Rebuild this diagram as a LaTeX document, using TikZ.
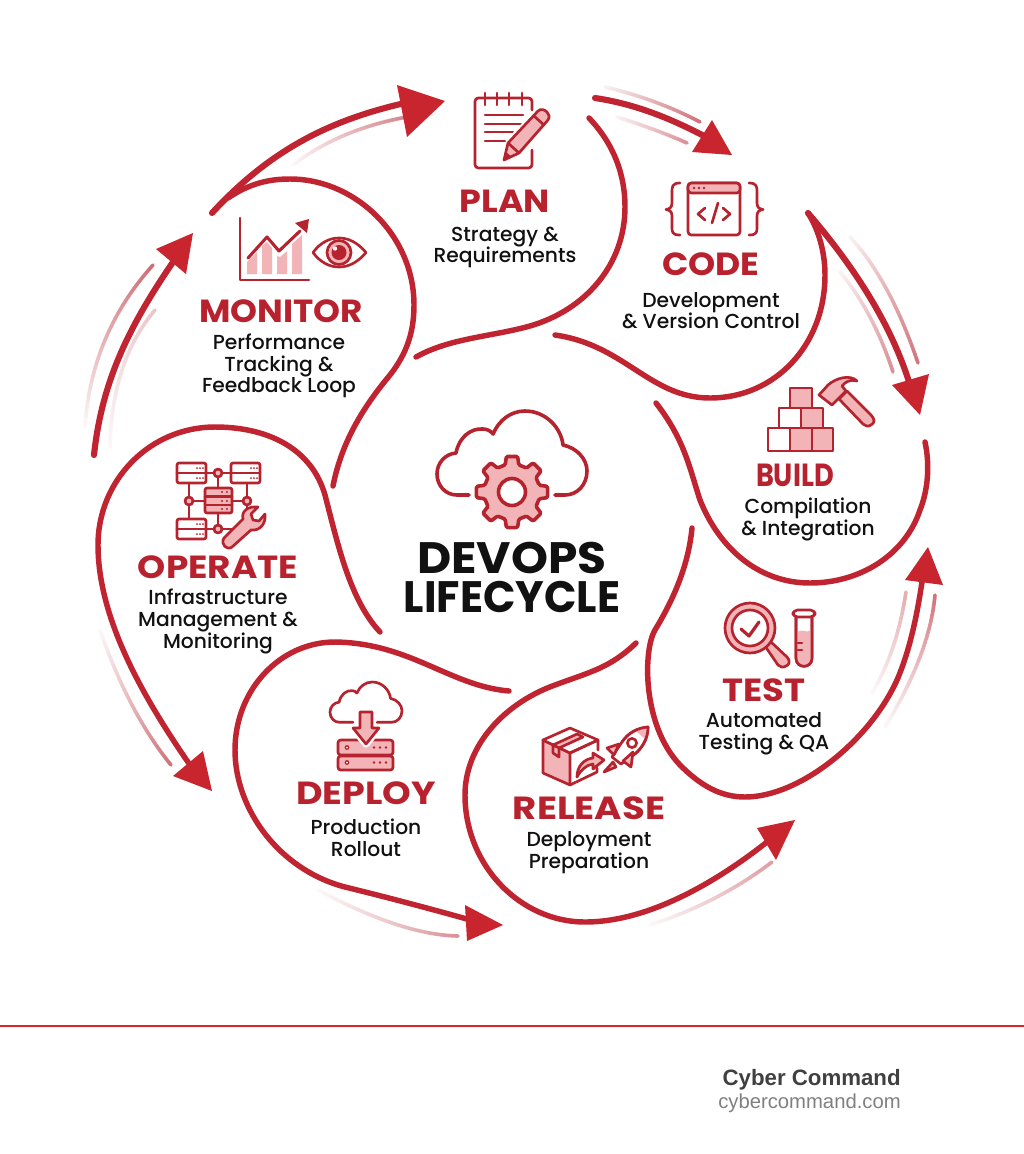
\documentclass[tikz,border=0pt]{standalone}
\usepackage{graphicx}
\usepackage{fontspec}
\setmainfont{Poppins}
\newfontfamily\subf{Poppins}[UprightFont=* Medium]
\newfontfamily\footf{Liberation Sans}
\usetikzlibrary{calc}
\definecolor{curve}{HTML}{BF2430}
\definecolor{headred}{HTML}{C9252F}
\definecolor{titlered}{HTML}{B8222E}
\definecolor{icon}{HTML}{B5232E}
\definecolor{pinkf}{HTML}{F2B4B6}
\definecolor{streakc}{HTML}{BC3540}
\definecolor{rulered}{HTML}{E0202A}
\definecolor{ink}{HTML}{111111}
\tikzset{
  bub/.style={line width=4.1pt,draw=curve,line cap=round,line join=round},
  arrw/.style={line width=4.6pt,draw=curve,line cap=round,line join=round},
  ttl/.style={font=\bfseries\fontsize{24}{26}\selectfont,text=titlered,inner sep=0pt},
  sub/.style={font=\subf\fontsize{15.2}{16.2}\selectfont,text=ink,align=center,inner sep=0pt},
  ic/.style={line width=2pt,draw=icon,line cap=round,line join=round},
  icf/.style={ic,fill=pinkf},
  icw/.style={ic,fill=white},
}
\newcommand\tsc[2]{\scalebox{#1}[1]{#2}}
\newcommand\streak[8]{%
  \foreach \k in {1,...,36}{%
    \pgfmathsetmacro\sCx{2*#3-0.5*(#1+#5)}%
    \pgfmathsetmacro\sCy{2*#4-0.5*(#2+#6)}%
    \pgfmathsetmacro\sTa{(\k-1)/36}%
    \pgfmathsetmacro\sTb{\k/36}%
    \pgfmathsetmacro\sXa{(1-\sTa)^2*#1+2*(1-\sTa)*\sTa*\sCx+\sTa^2*#5}%
    \pgfmathsetmacro\sYa{(1-\sTa)^2*#2+2*(1-\sTa)*\sTa*\sCy+\sTa^2*#6}%
    \pgfmathsetmacro\sXb{(1-\sTb)^2*#1+2*(1-\sTb)*\sTb*\sCx+\sTb^2*#5}%
    \pgfmathsetmacro\sYb{(1-\sTb)^2*#2+2*(1-\sTb)*\sTb*\sCy+\sTb^2*#6}%
    \pgfmathsetmacro\sPc{#7+(#8-#7)*(\k-0.5)/36}%
    \draw[line width=2.7pt,line cap=round,color=streakc!\sPc!white] (\sXa,\sYa)--(\sXb,\sYb);
  }%
}
\newcommand\cloudpath[2]{(#1,84)--(20,84) .. controls (8,84) and (0,74) .. (0,63) .. controls (0,52) and (8,43) .. (19,42) .. controls (22,26) and (34,17) .. (46,18) .. controls (50,18) and (54,20) .. (56,23) .. controls (62,9) and (74,0) .. (88,0) .. controls (108,0) and (124,16) .. (126,34) .. controls (140,37) and (150,48) .. (150,60) .. controls (150,74) and (140,84) .. (128,84)--(#2,84)}
\begin{document}
\begin{tikzpicture}[x=0.75pt,y=-0.75pt]
\useasboundingbox (0,0) rectangle (1024,1154);
\fill[white] (0,0) rectangle (1024,1154);

% ---------- streaks
\streak{605}{87}{655}{102}{700}{122}{6}{70}
\streak{617}{117}{655}{130}{687}{143}{6}{55}
\streak{850}{237}{887}{290}{918}{363}{6}{68}
\streak{840}{272}{870}{317}{893}{372}{6}{55}
\streak{872}{693}{893}{647}{906}{592}{3}{40}
\streak{885}{727}{920}{657}{935}{595}{3}{70}
\streak{650}{925}{715}{898}{772}{862}{3}{48}
\streak{318}{890}{395}{924}{458}{936}{3}{55}
\streak{100}{630}{132}{705}{171}{765}{3}{70}
\streak{85}{427}{105}{340}{153}{265}{3}{72}
\streak{110}{447}{122}{370}{155}{310}{4}{28}
\streak{293}{165}{345}{135}{407}{117}{3}{60}

% ---------- bubbles
\draw[bub] (589,118) .. controls (612,142) and (625,172) .. (625,207) .. controls (625,265) and (585,310) .. (530,326) .. controls (490,337) and (450,338) .. (416,357);
\draw[bub] (808,213) .. controls (820,232) and (825,255) .. (825,275) .. controls (825,345) and (775,398) .. (710,398) .. controls (650,398) and (625,345) .. (555,335);
\draw[bub] (925,442) .. controls (930,465) and (928,490) .. (920,510) .. controls (905,555) and (860,583) .. (810,583) .. controls (760,583) and (720,550) .. (700,500) .. controls (690,470) and (685,440) .. (656,403);
\draw[bub] (692,528) .. controls (688,570) and (670,605) .. (655,630) .. controls (643,650) and (642,725) .. (680,765) .. controls (700,785) and (720,797) .. (745,797) .. controls (800,797) and (870,740) .. (897,680) .. controls (910,650) and (917,615) .. (922,582);
\draw[bub] (636,643) .. controls (610,668) and (590,672) .. (555,685) .. controls (505,703) and (465,745) .. (465,795) .. controls (465,865) and (520,922) .. (585,922) .. controls (650,922) and (720,880) .. (772,838);
\draw[bub] (509,691) .. controls (450,686) and (410,643) .. (335,642) .. controls (280,642) and (235,690) .. (235,750) .. controls (235,810) and (280,870) .. (345,887) .. controls (390,898) and (435,910) .. (474,921);
\draw[bub] (380,632) .. controls (350,600) and (338,545) .. (325,495) .. controls (312,450) and (270,427) .. (215,427) .. controls (150,427) and (98,480) .. (98,545) .. controls (98,620) and (145,700) .. (190,765);
\draw[bub] (333,486) .. controls (342,440) and (365,405) .. (390,375) .. controls (408,352) and (414,330) .. (414,305) .. controls (414,235) and (355,179) .. (290,179) .. controls (270,179) and (250,183) .. (228,198);

% ---------- arrows
\draw[arrw] (212,213) .. controls (270,150) and (330,120) .. (405,103);
\draw[arrw] (595,98) .. controls (635,104) and (670,118) .. (708,138);
\draw[arrw] (808,213) .. controls (850,262) and (890,320) .. (910,385);
\draw[arrw] (94,455) .. controls (102,380) and (130,325) .. (173,262);
\fill[headred] (397,85)--(445,101)--(407,137)--cycle;
\fill[headred] (712,120)--(732,155)--(692,152)--cycle;
\fill[headred] (892,385)--(920,415)--(929,374)--cycle;
\fill[headred] (905,580)--(928,547)--(943,585)--cycle;
\fill[headred] (757,828)--(795,820)--(776,860)--cycle;
\fill[headred] (465,905)--(503,925)--(467,941)--cycle;
\fill[headred] (203,751)--(212,791)--(173,776)--cycle;
\fill[headred] (156,249)--(193,233)--(186,274)--cycle;

% ---------- PLAN icon
\draw[ic,rounded corners=2.5pt] (532,150) -- (532,168) -- (475,168) -- (475,98) -- (532,98) -- (532,110);
\foreach \xx in {485,497,509,522}{\draw[ic] (\xx,93)--(\xx,105);}
\draw[ic] (485,115)--(523,115) (485,124)--(523,124) (485,132)--(513,132) (485,141)--(505,141);
\draw[line width=5pt,white] (508,143)--(538,111)--(549,121)--(519,153);
\draw[icf] (504,160)--(508,143)--(538,111) .. controls (541,108) and (545,110) .. (547,112) .. controls (549,114) and (550,117) .. (548,120)--(519,153)--cycle;
\draw[ic] (534,116)--(544,125);
\draw[ic] (508,143)--(519,153);
\fill[icon] (504,160)--(506,152)--(512,157)--cycle;
\node[ttl] (plant) at (505,201) {\tsc{1.09}{PLAN}};
\node[sub] (plans) at (505,247.5) {Strategy \&\\Requirements};

% ---------- CODE icon
\draw[ic,rounded corners=2.5pt] (688,183) rectangle (740,235);
\draw[icf,rounded corners=2.5pt] (688,193)--(688,183)--(740,183)--(740,193)--cycle;
\foreach \xx in {694,699,704}{\fill[icon] (\xx,188) circle (1.4);}
\draw[ic] (705,208)--(698,214)--(705,220) (718,203)--(712,223) (723,208)--(730,214)--(723,220);
\draw[ic] (680,183) .. controls (672,183) and (672,187) .. (672,192) -- (672,203) .. controls (672,207) and (670,209) .. (666,209.5) .. controls (670,210) and (672,212) .. (672,216) -- (672,227) .. controls (672,232) and (672,235) .. (680,235);
\draw[ic] (749,183) .. controls (757,183) and (757,187) .. (757,192) -- (757,203) .. controls (757,207) and (759,209) .. (763,209.5) .. controls (759,210) and (757,212) .. (757,216) -- (757,227) .. controls (757,232) and (757,235) .. (749,235);
\node[ttl] (codet) at (711,264) {\tsc{1.08}{CODE}};
\node[sub] (codes) at (711,310.5) {Development\\\& Version Control};

% ---------- BUILD icon
\draw[icf] (790,388) rectangle (812,408);
\draw[icw] (779,408) rectangle (801,428);
\draw[icf] (801,408) rectangle (823,428);
\draw[icw] (768,428) rectangle (790,451);
\draw[icf] (790,428) rectangle (812,451);
\draw[icf] (812,428) rectangle (833,451);
\draw[icf] (839,399)--(847,391)--(871,415) .. controls (875,419) and (875,423) .. (871,425) .. controls (868,427) and (865,426) .. (863,424)--cycle;
\draw[icf] (819,395)--(828,385) .. controls (836,378) and (850,374) .. (857,381) .. controls (850,379) and (845,382) .. (842,386)--(846,391)--(832,405)--cycle;
\node[ttl] (buildt) at (795,475) {\tsc{0.85}{BUILD}};
\node[sub] (builds) at (808,519.5) {Compilation\\\& Integration};

% ---------- TEST icon
\draw[icf] (765,646) -- (771,642) -- (787,657) .. controls (791,661) and (789,665) .. (786,666) .. controls (783,668) and (780,667) .. (778,665) -- cycle;
\draw[icf] (750,628) circle (25);
\draw[icw] (750,628) circle (18);
\draw[line width=2.4pt,draw=icon,line cap=round,line join=round] (741,629)--(749,636)--(759,622);
\draw[icw] (796,617)--(796,658) .. controls (796,669) and (812,669) .. (812,658)--(812,617);
\fill[pinkf] (796.8,632) .. controls (802,628) and (806,634) .. (811.2,630) -- (811.2,658) .. controls (811,667) and (797,667) .. (796.8,658) -- cycle;
\draw[ic] (796,617)--(796,658) .. controls (796,669) and (812,669) .. (812,658)--(812,617);
\draw[ic] (798,643)--(802,643) (798,650)--(802,650);
\draw[icw,rounded corners=3.4pt] (793,610) rectangle (815,617);
\node[ttl] (testt) at (764,690) {\tsc{1.11}{TEST}};
\node[sub] (tests) at (764,733.5) {Automated\\Testing \& QA};

% ---------- RELEASE icon
\draw[icf] (543,740)--(570,753)--(570,785)--(543,773)--cycle;
\draw[icw] (543,740)--(570,728)--(598,740)--(570,753)--cycle;
\draw[icf] (553,745)--(577,734)--(583,737)--(559,748)--cycle;
\draw[icf] (553,745)--(553,753)--(559,757)--(559,748)--cycle;
\draw[ic] (570,753)--(598,740)--(598,750) (570,785)--(597,772)--(597,768);
\draw[icf] (577,777) .. controls (577,766) and (584,759) .. (593,758)--(593,753)--(604,760)--(593,769)--(593,764) .. controls (586,765) and (581,770) .. (577,777)--cycle;
\draw[icw] (648,727) .. controls (637,728) and (628,733) .. (622,742)--(612,757)--(621,764)--(635,754) .. controls (643,747) and (648,738) .. (648,727)--cycle;
\draw[ic,fill=white] (632,743) circle (4.6);
\fill[pinkf] (648,727) .. controls (643,727.5) and (639,728.5) .. (636,731)--(645,739) .. controls (647,735) and (648,731) .. (648,727)--cycle;
\draw[ic] (648,727) .. controls (637,728) and (628,733) .. (622,742) (635,754) .. controls (643,747) and (648,738) .. (648,727);
\draw[icf] (619,744)--(607,748)--(614,755)--cycle;
\draw[icf] (633,752)--(631,767)--(623,761)--cycle;
\draw[icf] (613,762)--(604,772)--(616,767)--cycle;
\node[ttl] (relt) at (589,808) {\tsc{1.16}{RELEASE}};
\node[sub] (rels) at (589,852.5) {Deployment\\Preparation};

% ---------- DEPLOY icon
\draw[ic,shift={(330,682)},scale=.48] \cloudpath{48}{98};
\draw[icf,rounded corners=2pt] (338,740) rectangle (393,755);
\draw[icf,rounded corners=2pt] (338,756) rectangle (393,770);
\fill[icon] (347,747.5) circle (2.4) (347,762.5) circle (2.4);
\fill[white] (347,747.5) circle (1) (347,762.5) circle (1);
\foreach \xx in {374,380,386}{\fill[icon] (\xx,747.5) circle (1.4) (\xx,762.5) circle (1.4);}
\draw[line width=5.5pt,white,line join=round] (360,712)--(372,712)--(372,728)--(379,728)--(366,744)--(353,728)--(360,728)--cycle;
\draw[icf] (360,712)--(372,712)--(372,728)--(379,728)--(366,744)--(353,728)--(360,728)--cycle;
\node[ttl] (deployt) at (366,793) {\tsc{1.14}{DEPLOY}};
\node[sub] (deploys) at (366,837.5) {Production\\Rollout};

% ---------- OPERATE icon
\draw[ic] (206,473)--(231,473) (218,473)--(218,488) (189,483)--(189,519) (247,483)--(247,510) (189,501)--(205,501) (232,501)--(247,501) (218,513)--(218,529) (206,529)--(232,529);
\foreach \bx/\by in {177/463,231/463,177/519}{
  \draw[icw,rounded corners=1.5pt] (\bx,\by) rectangle +(29,20);
  \draw[ic] (\bx,\by+10)--(\bx+29,\by+10);
  \foreach \dy in {5,15}{\foreach \dx in {20,23,26}{\fill[icon] (\bx+\dx,\by+\dy) circle (1);}}
}
\draw[icf,rounded corners=1.5pt] (205,488) rectangle (232,513);
\draw[ic] (205,496.5)--(232,496.5) (205,505)--(232,505);
\foreach \dy in {492,501,509}{\foreach \dx in {222,227}{\fill[icon] (\dx,\dy) circle (1.1);}}
\foreach \cx/\cy in {218/473,189/501,247/501,218/529}{\draw[icf] (\cx,\cy) circle (4);}
\draw[icf] (224,538)--(243,519) .. controls (241,511) and (248,506) .. (258,507)--(251,514)--(253,520)--(259,521)--(265,514) .. controls (266,524) and (260,531) .. (251,530)--(232,547) .. controls (227,551) and (220,544) .. (224,538)--cycle;
\node[ttl] (opt) at (218,567) {\tsc{1.12}{OPERATE}};
\node[sub] (ops) at (218,621.5) {Infrastructure\\Management \&\\Monitoring};

% ---------- MONITOR icon
\draw[ic] (240,218)--(240,280)--(309,280);
\fill[pinkf] (247,274)--(247,262)--(257,252)--(257,274)--cycle;
\fill[pinkf] (262,274)--(262,246)--(267,242)--(272,248)--(272,274)--cycle;
\fill[pinkf] (277,274)--(277,256)--(280,257)--(287,251)--(287,274)--cycle;
\fill[pinkf] (292,274)--(292,244)--(302,235)--(302,274)--cycle;
\draw[ic,line width=2.3pt] (248,258)--(267,237)--(279,251)--(300,231);
\fill[icon] (295,223)--(309,219)--(307,233)--cycle;
\draw[ic,fill=white] (313,252.5) .. controls (320,243) and (329,238) .. (339,238) .. controls (349,238) and (358,243) .. (366,252.5) .. controls (358,262) and (349,267) .. (339,267) .. controls (329,267) and (320,262) .. (313,252.5)--cycle;
\draw[icf] (339,252.5) circle (12);
\fill[icon] (339,252.5) circle (7.5);
\fill[white!85!pinkf] (335,248.5) circle (2.2);
\node[ttl] (mont) at (281,311) {\tsc{1.07}{MONITOR}};
\node[sub] (mons) at (279,366) {Performance\\Tracking \&\\Feedback Loop};

% ---------- centre icon
\draw[ic,line width=2.7pt,shift={(437,411)}] \cloudpath{32}{118};
\draw[icf,line width=2.7pt,rounded corners=1pt,shift={(512,492)}]
  (-14:28) \foreach \a in {0,45,...,315}{ -- (\a-14:28) -- (\a-9:36) -- (\a+9:36) -- (\a+14:28) } -- cycle;
\draw[line width=2.7pt,draw=icon,fill=white] (512,492) circle (13.5);
\node[font=\bfseries\fontsize{33}{29.3}\selectfont,text=ink,inner sep=0pt,align=center] (centre) at (512,577) {\tsc{1.07}{DEVOPS}\\\tsc{0.97}{LIFECYCLE}};

% ---------- footer
\draw[line width=2.2pt,rulered] (0,1026)--(1024,1026);
\node[font=\footf\bfseries\fontsize{16.7}{20}\selectfont,text=black!75,anchor=east,inner sep=0pt] (brand) at (901,1080) {Cyber Command};
\node[font=\footf\fontsize{15.2}{18}\selectfont,text=black!50,anchor=east,inner sep=0pt] (site) at (901,1103) {cybercommand.com};
\end{tikzpicture}
\end{document}
